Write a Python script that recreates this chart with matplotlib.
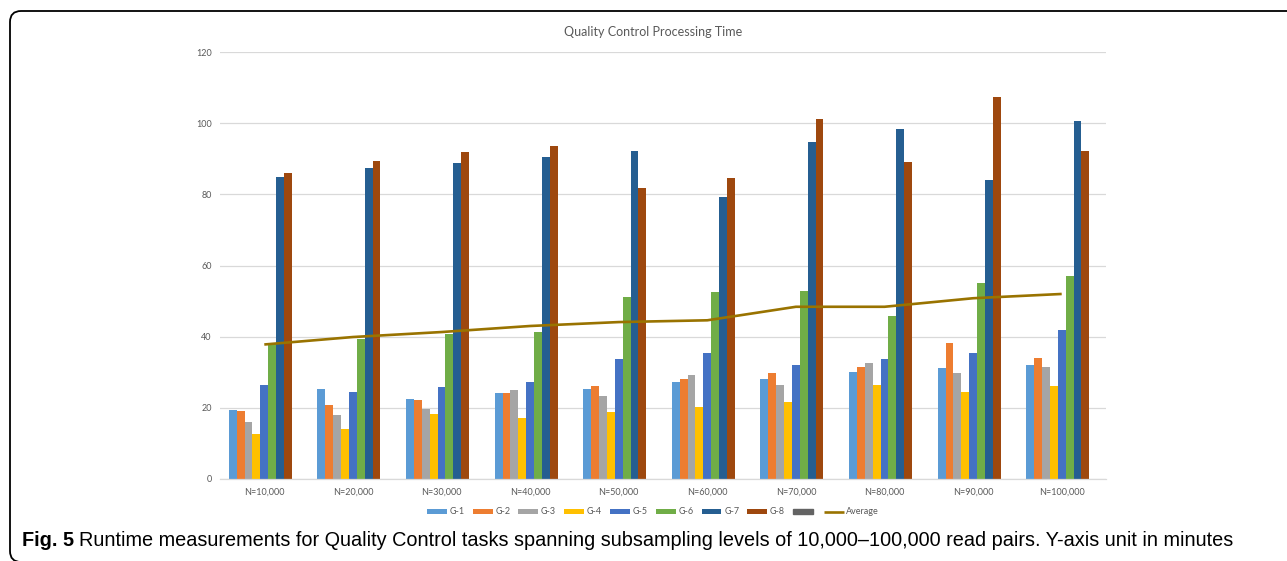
import matplotlib
matplotlib.use("Agg")
import matplotlib.pyplot as plt
import numpy as np
from matplotlib.patches import Patch, FancyBboxPatch

# Data (minutes)
groups = ["N=10,000", "N=20,000", "N=30,000", "N=40,000", "N=50,000",
          "N=60,000", "N=70,000", "N=80,000", "N=90,000", "N=100,000"]
series_names = ["G-1", "G-2", "G-3", "G-4", "G-5", "G-6", "G-7", "G-8"]

g1 = [19.5, 25.2, 22.5, 24.1, 25.2, 27.2, 28.2, 30.2, 31.2, 32.1]
g2 = [19.2, 20.7, 22.2, 24.1, 26.1, 28.0, 29.7, 31.4, 38.2, 34.0]
g3 = [16.0, 17.9, 19.7, 25.0, 23.4, 29.1, 26.3, 32.5, 29.7, 31.5]
g4 = [12.6, 14.1, 18.4, 17.1, 18.8, 20.3, 21.6, 26.3, 24.4, 26.1]
g5 = [26.5, 24.4, 25.9, 27.4, 33.8, 35.3, 32.1, 33.8, 35.3, 42.0]
g6 = [38.0, 39.3, 40.8, 41.4, 51.1, 52.6, 52.8, 45.9, 55.1, 57.1]
g7 = [84.9, 87.3, 88.9, 90.4, 92.3, 79.3, 94.8, 98.3, 84.0, 100.6]
g8 = [86.0, 89.4, 92.0, 93.5, 81.7, 84.7, 101.1, 89.0, 107.4, 92.3]
average = [37.8, 39.9, 41.3, 43.0, 44.1, 44.6, 48.4, 48.4, 50.8, 52.0]

colors = ["#5B9BD5", "#ED7D31", "#A5A5A5", "#FFC000",
          "#4472C4", "#70AD47", "#255E91", "#9E480E"]
empty_color = "#636363"   # 9th legend entry, no data
avg_color = "#997300"
label_color = "#595959"
grid_color = "#D9D9D9"

W, H = 1287, 561
fig = plt.figure(figsize=(W / 100, H / 100), dpi=100)

# outer frame, rounded corners, running off the right and bottom edges
frame = FancyBboxPatch((10 / 100, -1 / 100), 13.5, (H - 11 + 1) / 100,
                       boxstyle="round,pad=0,rounding_size=0.11",
                       transform=fig.dpi_scale_trans, fill=False,
                       edgecolor="black", linewidth=1.3)
fig.patches.append(frame)

ax = fig.add_axes([220 / W, 1 - 479 / H, 886 / W, 427 / H])

data = [g1, g2, g3, g4, g5, g6, g7, g8]
x = np.arange(len(groups))
n_slots = 9
bw = 0.8 / n_slots
handles = []
for i, (vals, c) in enumerate(zip(data, colors)):
    offs = -0.4 + bw * (i + 0.5)
    b = ax.bar(x + offs, vals, width=bw, color=c, zorder=2, label=series_names[i])
    handles.append(b)

line, = ax.plot(x, average, color=avg_color, linewidth=1.9, zorder=3,
                solid_capstyle="butt")

ax.set_xlim(-0.5, len(groups) - 0.5)
ax.set_ylim(0, 120)
ax.set_yticks(np.arange(0, 121, 20))
ax.yaxis.grid(True, color=grid_color, linewidth=0.9, zorder=0)
ax.set_xticks(x)
ax.set_xticklabels(groups)
ax.tick_params(axis="both", length=0, labelsize=6.5, labelcolor=label_color)
ax.tick_params(axis="x", pad=6)
ax.tick_params(axis="y", pad=6)
for lab in ax.get_xticklabels() + ax.get_yticklabels():
    lab.set_family("Lato")
for s in ["top", "right", "left"]:
    ax.spines[s].set_visible(False)
ax.spines["bottom"].set_color(grid_color)
ax.spines["bottom"].set_linewidth(0.9)
ax.set_facecolor("none")

fig.text(653 / W, 1 - 32 / H, "Quality Control Processing Time",
         ha="center", va="center", fontsize=9, color=label_color, family="Lato")

leg_handles = handles + [Patch(color=empty_color), line]
leg_labels = series_names + ["", "Average"]
fig.legend(leg_handles, leg_labels, loc="center", ncol=10,
           bbox_to_anchor=(653 / W, 1 - 512 / H), frameon=False,
           prop={"family": "Lato", "size": 6.5}, labelcolor=label_color,
           handlelength=2.2, handleheight=0.5, handletextpad=0.3,
           columnspacing=0.9)

# caption: bold "Fig. 5" then the text
cap_y = 1 - 541 / H
cap_fs = 14.3
cap_font = ["Liberation Sans Narrow", "Liberation Sans"]
t1 = fig.text(22 / W, cap_y, "Fig. 5", fontsize=cap_fs, fontweight="bold",
              family=cap_font, va="center")
fig.canvas.draw()
bb = t1.get_window_extent()
fig.text((bb.x1 + 5) / W, cap_y,
         "Runtime measurements for Quality Control tasks spanning subsampling "
         "levels of 10,000\u2013100,000 read pairs. Y-axis unit in minutes",
         fontsize=cap_fs, family=cap_font, va="center")

fig.savefig("out.png", dpi=100)
